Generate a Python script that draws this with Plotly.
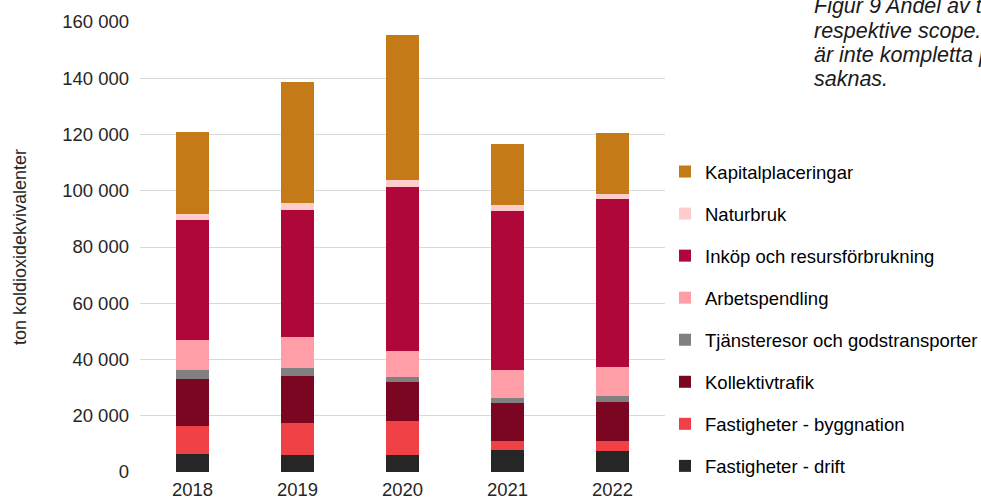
import plotly.graph_objects as go

years = ["2018", "2019", "2020", "2021", "2022"]

drift = [6400, 6000, 6000, 7900, 7600]
byggnation = [10000, 11500, 12100, 3300, 3500]
kollektivtrafik = [16800, 16700, 13900, 13300, 13800]
tjansteresor = [2900, 2800, 1900, 1700, 2100]
arbetspendling = [10700, 10900, 9200, 10200, 10200]
inkop = [42800, 45300, 58300, 56400, 59700]
naturbruk = [2100, 2400, 2400, 2100, 1900]
kapital = [29200, 43200, 51700, 21600, 21700]

caption_lines = ["Figur 9 Andel av totala utsläpp", "respektive scope. Uppgifterna",
                 "är inte kompletta på alla", "saknas."]

series = [
    ("Fastigheter - drift", drift, "#262626"),
    ("Fastigheter - byggnation", byggnation, "#EF4146"),
    ("Kollektivtrafik", kollektivtrafik, "#7A0622"),
    ("Tjänsteresor och godstransporter", tjansteresor, "#808080"),
    ("Arbetspendling", arbetspendling, "#FF9EA6"),
    ("Inköp och resursförbrukning", inkop, "#B0073B"),
    ("Naturbruk", naturbruk, "#FFCCCC"),
    ("Kapitalplaceringar", kapital, "#C47A16"),
]

fig = go.Figure()
n = len(series)
for i, (name, vals, col) in enumerate(series):
    fig.add_trace(go.Bar(
        x=years, y=vals, name=name, legendgroup=name,
        legendrank=n - i,
        marker=dict(color=col, line=dict(width=0)),
    ))

font_family = "Liberation Sans, Arial, sans-serif"
W, H = 981, 503
L, T = 140, 22
R = W - 665
B = H - 472
pw, ph = W - L - R, H - T - B

def px_x(xw):
    return (xw - L) / pw

def px_y(yw):
    return (H - B - yw) / ph

annotations = []
line_centers = [6, 31, 55, 79]
for line, yc in zip(caption_lines, line_centers):
    annotations.append(dict(
        text="<i>" + line + "</i>",
        xref="paper", yref="paper",
        x=px_x(812), y=px_y(yc),
        xanchor="left", yanchor="middle", align="left",
        showarrow=False,
        font=dict(size=21.5, color="#1a1a1a", family=font_family),
    ))

fig.update_layout(
    barmode="stack",
    bargap=0.69,
    width=W, height=H,
    margin=dict(l=L, r=R, t=T, b=B, autoexpand=False),
    paper_bgcolor="white",
    plot_bgcolor="white",
    separators=", ",
    font=dict(family=font_family, size=18.5, color="#262626"),
    showlegend=True,
    legend=dict(
        x=px_x(665), xanchor="left",
        y=px_y(153), yanchor="top",
        traceorder="grouped",
        tracegroupgap=15,
        font=dict(size=18.5, color="#000000"),
        bgcolor="rgba(0,0,0,0)",
    ),
    xaxis=dict(
        showgrid=False, zeroline=False, showline=False,
        tickfont=dict(size=18.5, color="#262626"),
        ticks="", automargin=False, ticklabelstandoff=4,
    ),
    yaxis=dict(
        range=[0, 160000],
        tickvals=[0, 20000, 40000, 60000, 80000, 100000, 120000, 140000, 160000],
        tickformat=",d",
        showgrid=True, gridcolor="#D9D9D9", gridwidth=1,
        zeroline=False, showline=False,
        tickfont=dict(size=18.5, color="#262626"),
        ticks="", ticklabelstandoff=10, automargin=True,
        title=dict(text="ton koldioxidekvivalenter", font=dict(size=18, color="#262626"),
                   standoff=30),
    ),
    annotations=annotations,
)

fig.write_html(
    "out.html",
    config={"displayModeBar": False},
    post_script="document.body.style.margin='0';document.body.style.overflow='hidden';",
)
